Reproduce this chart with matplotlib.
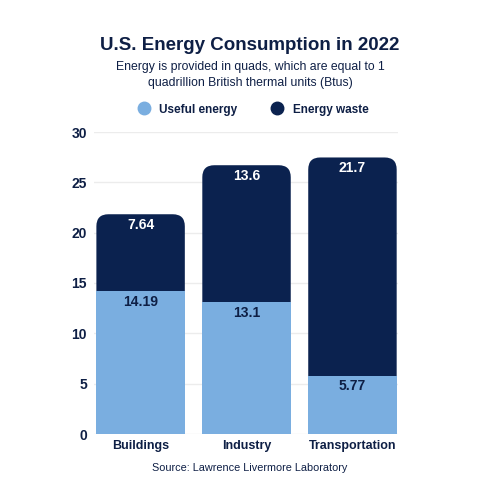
import matplotlib
matplotlib.use("Agg")
import matplotlib.pyplot as plt
from matplotlib.patches import FancyBboxPatch, Rectangle
from matplotlib.lines import Line2D

plt.rcParams['font.family'] = ['Liberation Sans', 'DejaVu Sans']

sectors = ["Buildings", "Industry", "Transportation"]
useful = [14.19, 13.1, 5.77]
waste = [7.64, 13.6, 21.7]
useful_labels = ["14.19", "13.1", "5.77"]
waste_labels = ["7.64", "13.6", "21.7"]
yticks = [0, 5, 10, 15, 20, 25, 30]

LIGHT = "#7aaee0"
NAVY = "#0b224f"
TEXT = "#0e1f45"

fig = plt.figure(figsize=(5, 5), dpi=100)
ax = fig.add_axes([0.188, 0.132, 0.608, 0.604])
ax.set_xlim(-0.44, 2.43)
ax.set_ylim(0, 30)

# aspect between data units so the rounded corners look circular
px_x = 0.608 * 500 / (2.43 + 0.44)
px_y = 0.604 * 500 / 30
aspect = px_x / px_y
w = 0.835
r = 12 / px_x

for i, (u, wv) in enumerate(zip(useful, waste)):
    total = u + wv
    top = FancyBboxPatch((i - w / 2, 0), w, total,
                         boxstyle=f"round,pad=0,rounding_size={r}",
                         mutation_aspect=aspect, fc=NAVY, ec="none", zorder=2)
    ax.add_patch(top)
    ax.add_patch(Rectangle((i - w / 2, 0), w, u, fc=LIGHT, ec="none", zorder=3))
    ax.text(i, total - 0.35, waste_labels[i], ha="center", va="top", color="white",
            fontsize=10, fontweight="bold", zorder=4)
    ax.text(i, u - 0.35, useful_labels[i], ha="center", va="top", color=TEXT,
            fontsize=10, fontweight="bold", zorder=4)

ax.set_yticks(yticks)
ax.set_xticks(range(len(sectors)))
ax.set_xticklabels(sectors)
ax.tick_params(length=0, labelsize=9, labelcolor=TEXT)
ax.tick_params(axis="y", labelsize=10, pad=5)
ax.tick_params(axis="x", pad=4)
for lab in ax.get_xticklabels() + ax.get_yticklabels():
    lab.set_fontweight("bold")
ax.grid(axis="y", color="#ececec", linewidth=1, zorder=0)
ax.set_axisbelow(True)
for s in ax.spines.values():
    s.set_visible(False)

fig.text(0.5, 0.91, "U.S. Energy Consumption in 2022", ha="center", va="center",
         fontsize=13.5, fontweight="bold", color=TEXT)
fig.text(0.5, 0.85, "Energy is provided in quads, which are equal to 1\nquadrillion British thermal units (Btus)",
         ha="center", va="center", fontsize=8.8, color=TEXT, linespacing=1.5)

handles = [Line2D([], [], marker="o", ls="none", ms=9, color=LIGHT, label="Useful energy"),
           Line2D([], [], marker="o", ls="none", ms=9, color=NAVY, label="Energy waste")]
leg = fig.legend(handles=handles, loc="center", bbox_to_anchor=(0.5, 0.781), ncol=2,
                 frameon=False, handletextpad=0.3, columnspacing=2.4, fontsize=8.5)
for t in leg.get_texts():
    t.set_fontweight("bold")
    t.set_color(TEXT)

fig.text(0.5, 0.064, "Source: Lawrence Livermore Laboratory", ha="center", va="center",
         fontsize=7.8, color=TEXT)

fig.savefig("out.png", dpi=100)
